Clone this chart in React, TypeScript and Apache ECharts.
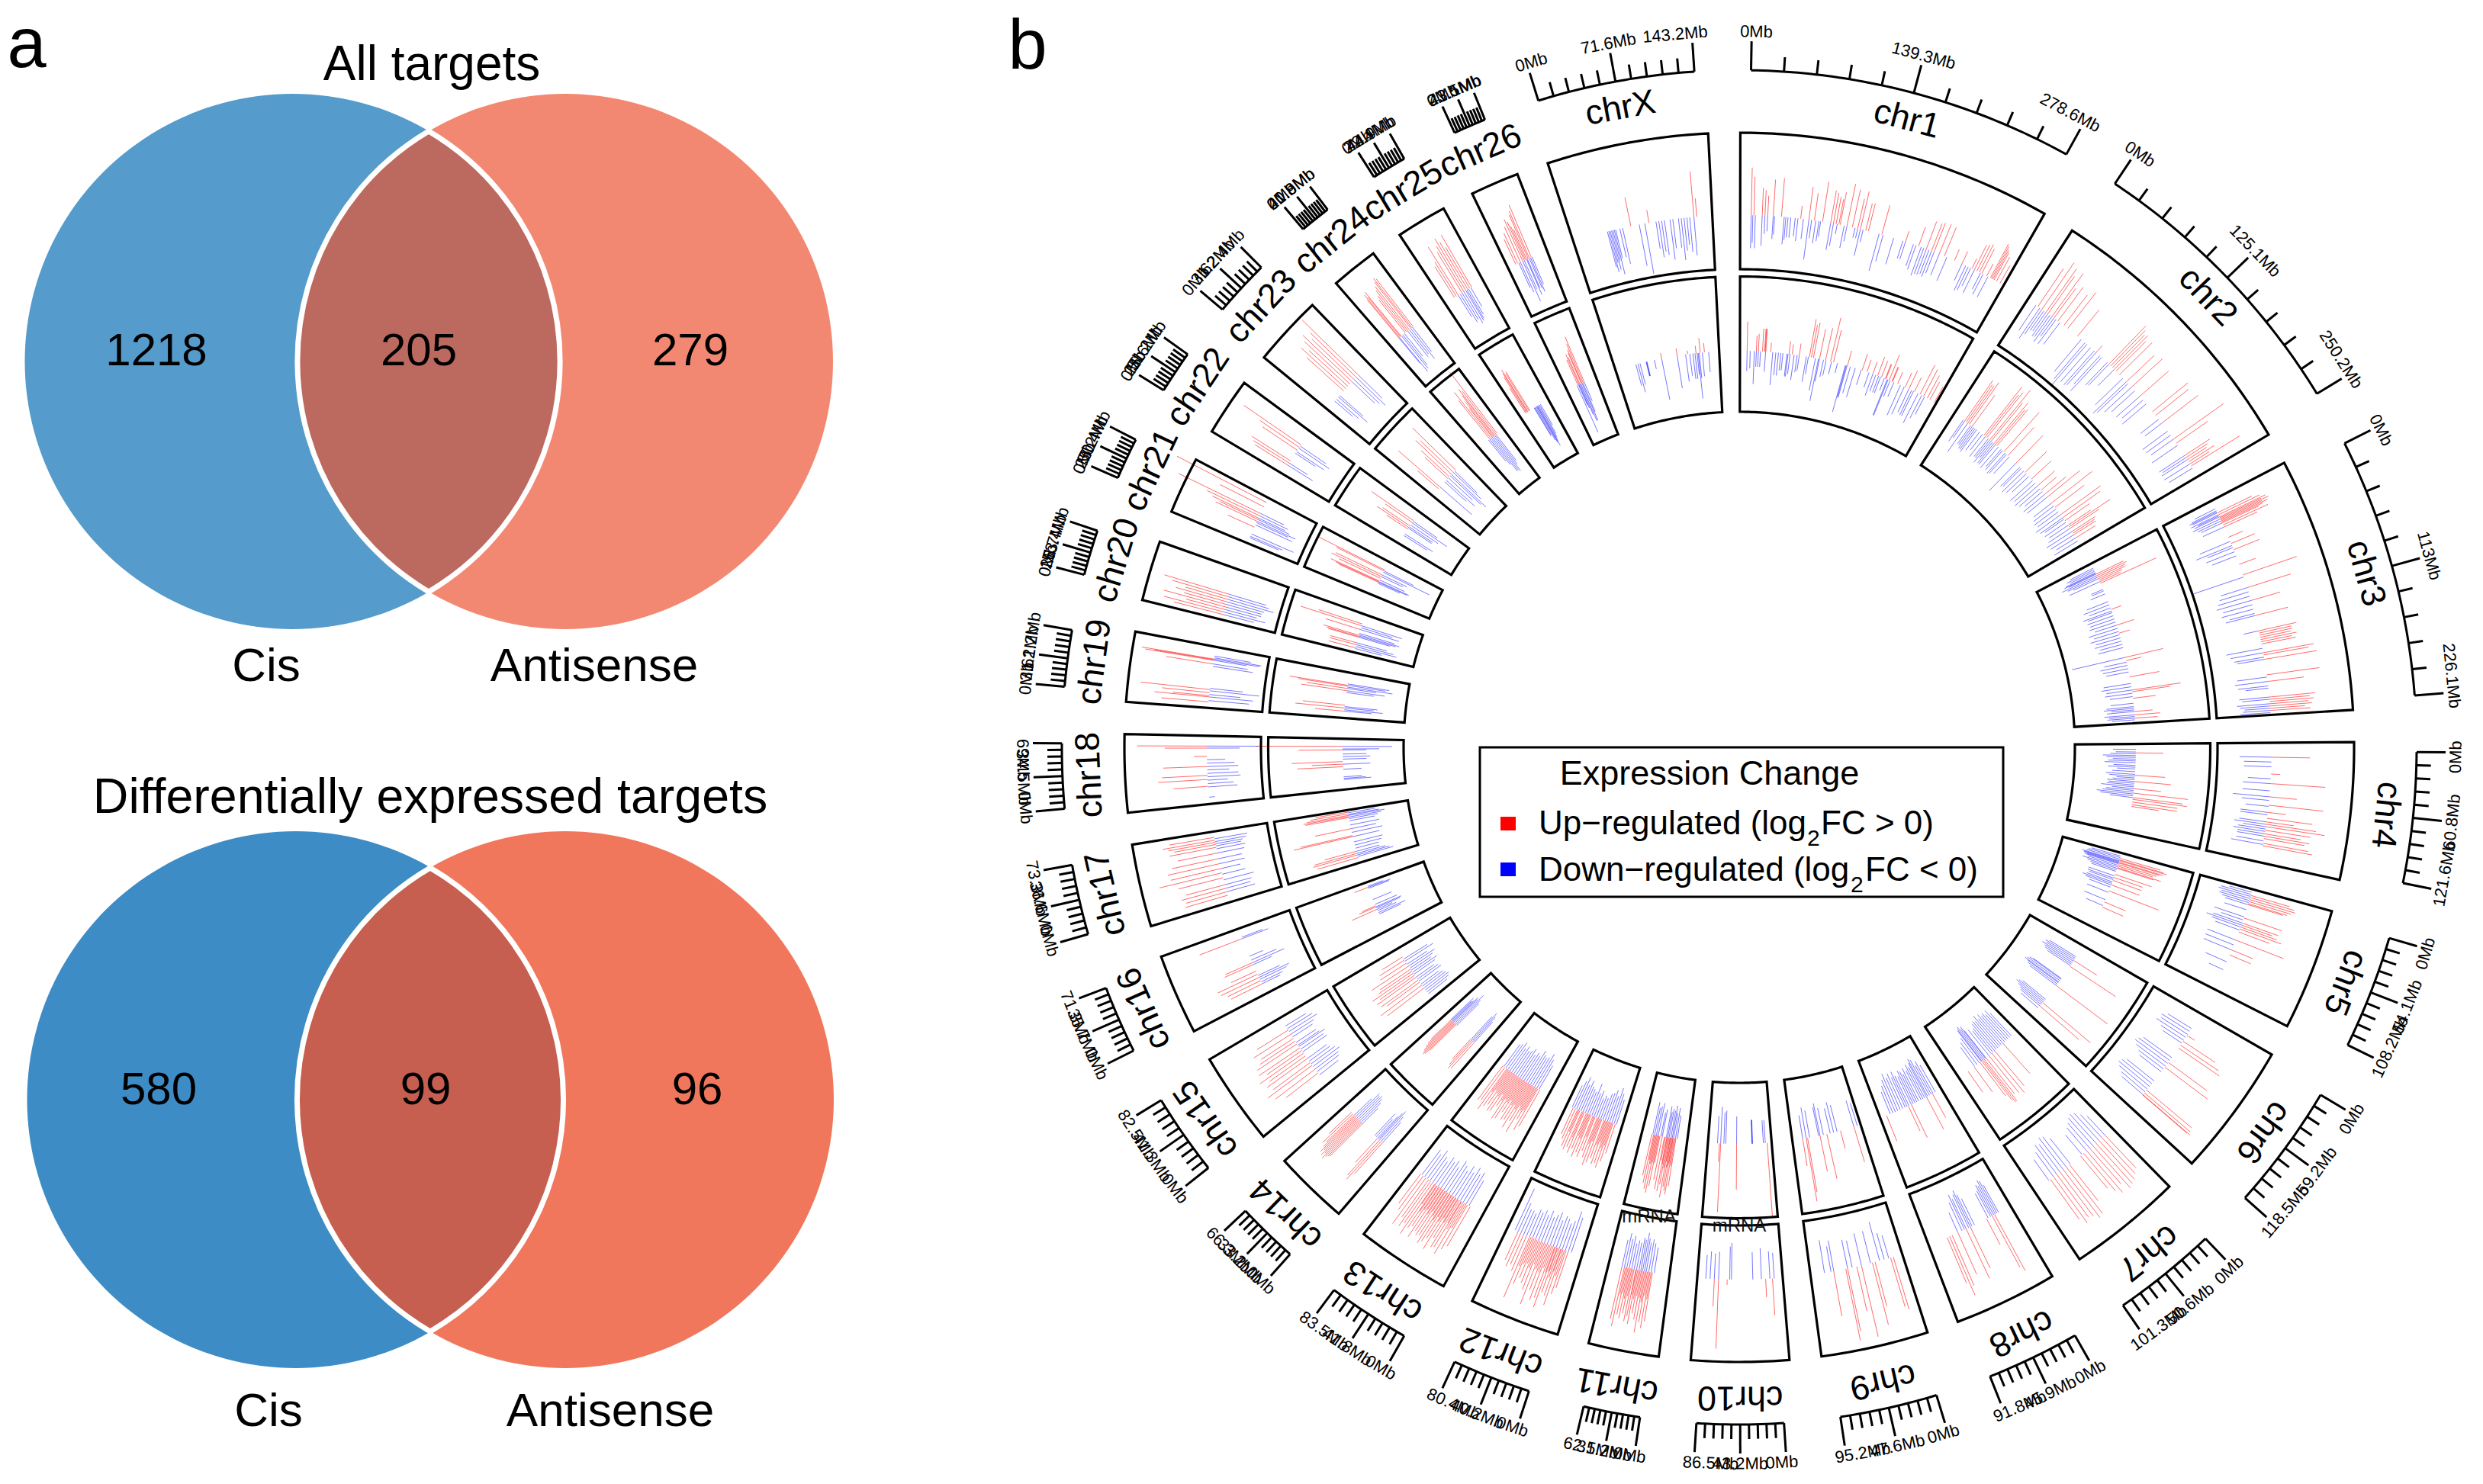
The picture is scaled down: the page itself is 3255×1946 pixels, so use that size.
import React, { useEffect, useRef } from "react";
import * as echarts from "echarts";

// ---------- Venn counts ----------
const vennAllCounts = ["1218", "205", "279"];
const vennDiffCounts = ["580", "99", "96"];
const vennAllTitle = "All targets";
const vennDiffTitle = "Differentially expressed targets";
const vennSets = ["Cis", "Antisense"];

// ---------- Genome ----------
const chrNames = ["chr1","chr2","chr3","chr4","chr5","chr6","chr7","chr8","chr9","chr10","chr11","chr12","chr13","chr14","chr15","chr16","chr17","chr18","chr19","chr20","chr21","chr22","chr23","chr24","chr25","chr26","chrX"];
const chrLengths = [278.6,250.2,226.1,121.6,108.2,118.5,101.3,91.8,95.2,86.5,62.5,80.4,83.5,66.3,82.5,71.3,73.3,69,62.2,53.4,50.4,51.2,62.4,41.8,44.9,43.1,143.2];
const chrMidLabels = ["139.3Mb","125.1Mb","113Mb","60.8Mb","54.1Mb","59.2Mb","50.6Mb","45.9Mb","47.6Mb","43.2Mb","31.2Mb","40.2Mb","41.8Mb","33.2Mb","41.3Mb","35.7Mb","36.6Mb","34.5Mb","31.1Mb","26.7Mb","25.2Mb","25.6Mb","31.2Mb","20.9Mb","22.4Mb","21.5Mb","71.6Mb"];
const chrEndLabels = ["278.6Mb","250.2Mb","226.1Mb","121.6Mb","108.2Mb","118.5Mb","101.3Mb","91.8Mb","95.2Mb","86.5Mb","62.5Mb","80.4Mb","83.5Mb","66.3Mb","82.5Mb","71.3Mb","73.3Mb","69Mb","62.2Mb","53.4Mb","50.4Mb","51.2Mb","62.4Mb","41.8Mb","44.9Mb","43.1Mb","143.2Mb"];

// Each list: position along the chromosome (% of length), |log2FC| ; a = outer track, b = inner track, U = up, D = down
const c1aU = [4,5.2,5,4.2,8,3,9,2.8,10,2.2,12,4,15,4.2,22,1.4,25,3.6,27,3,30,4.4,33,3.6,34,3.4,35,3,36,2.8,36.5,3.6,39,4.7,41,4.2,43,3.3,44,4.2,46,3,47,3.1,52,3.3,61,1.2,66,2.2,69,3.2,71,3.2,72,3.4,74,3.5,76,3.4,80,1.3,83,1.5,87,1.2,88,3,89,3.2,90,3.4,91,3,93,1.5,94.5,4.2,95,4,95.5,3.6,96,3.4,97,3,98.5,2.2];
const c1aD = [4,3.6,4.6,3,5.5,3.6,8,3.3,9,2,10,1.7,12,2.5,12.5,2,16,3,16.6,2.5,17.4,2.2,18.4,2.2,20,2,21,2.5,23,2.2,25,4.4,26,2,27.5,2.5,28.7,2.2,29.3,1.7,33,3,34,2.5,35.4,1.1,38,2.5,39,1.7,42,1.1,43,1.1,44,3,45,1.4,51,4.2,52.5,3,56.5,3,60,2,61,2,64,2.5,65,2.8,67,3.3,68,3,69,3,70,2.8,71,3,72,2.5,74,2.5,77,2.8,83,2,84.5,3,85.5,2.8,86.5,2.2,88,2.8,90.5,2,91.5,2.5,93.5,2.5];
const c1bU = [3.5,3.2,8,1.7,9,1.9,11,2.5,12,2.5,12.3,2.5,12.6,2.5,15,1,24,1.4,25.5,1.1,29,1.3,34,4.2,35,3.6,36,3.9,39,3.3,42,3.6,44.5,4.9,46,3.6,53,1.7,60.5,1.9,63,1.4,66,1.4,68.5,2.2,70.5,1.9,72.5,1.7,72.8,1.7,74.5,3,76,1.7,76.3,1.7,79,1.4,83,1.7,85,2.2,88,1.7,91,3.6,93,3.3,95,2.8,96.5,2.2,99,1.9];
const c1bD = [3.5,2.2,5,1.9,7,3.6,8,1.7,9,1.7,10,1.7,12.5,2.2,16,3.6,17.5,2.5,18.8,2.5,20,1.9,21,1.9,23,2.5,24.5,2.2,23.5,2.5,26.5,2.8,28,1.9,29,1.7,32.5,2.8,33.5,1.9,37,3.6,38.5,4.7,39,2.5,41,1.9,42.3,1.7,45,1.4,48,1.1,52,5.3,52.4,3.6,52.8,3.6,54.5,3,57,3.3,60,1.7,64,1.7,66,2.5,67.5,1.9,69,1.9,70,1.9,72,1.4,73.5,4.2,73.9,4.2,75,1.9,77,1.7,80.5,3.6,82.5,3.3,85,2.8,86.5,3,87.5,3,90,3.6,92,2.8,93.5,2.2];

const c2aU = [5,5,7,6.2,9,5.8,10,5,12,5.8,13,4,15,4.6,18,4.2,20,5,25,3.7,35,1,42,5.8,43,5.4,44,5,45,5.2,46,4.6,48,5,52,4.2,55,4.6,60,4.2,68,5,70,4.6,74,5,82,6.7,84,4.2,90,3.3,91,2.8,92,2.5,93,3.3,94,2.5,95,6.2];
const c2aD = [4,3.3,6,4,7,3.3,8,2.6,9,2.5,10,3,11,2.9,12,3.4,13,2.5,14,3.3,16,3,27,4.6,29,5.2,30,5.8,32,5,34,5,35,4.8,37,4.2,38,5,41,3.4,42,3.2,45,2.5,50,4.2,52,5,53,4.6,55,4,57,3.4,60,3.4,62,3,64,3.4,72,2.5,74,2.3,78,3.4,80,3.3,82,3,85,3.4,90,3.3,91,3,92,3.3,94,3.3,96,3];
const c2bU = [7,5.4,8,5,9,5,10,5.6,12,4.2,20,6.7,21,5.8,22,6.3,24,7,25,5.4,27,5.8,28,5,29,5.2,34,5.8,37,4.2,43,4.2,50,3.3,55,2.9,60,2.5,63,2.2,66,3,68,4.6,72,5.6,75,4,80,5.4,82,5,84,3.3,87,3,88,5.4,89,3.8,91,3,92,2.8,93,2.8,95,2.5];
const c2bD = [6,2.8,7,2.2,9,3.8,11,2.5,12,2.5,13,2.8,14,2.8,15,3,17,2.5,19,2.2,21,2.8,23,2.5,24,2.5,25,3,26,2.2,27,2.8,28,2.8,30,3,32,2.5,33,2.8,35,3,36,2.8,38,2.5,43,4.2,46,3,47,2.8,49,3.3,51,3,53,2.5,56,3.3,58,3,60,3.3,62,3,64,2.5,66,3,68,2.8,72,2.5,74,2.8,76,3,78,2.8,80,3.3,82,3,83,2.5,85,2.8,87,2.5,89,2.8,91,3.3,93,3,95,2.5,97,3];

const c3aU = [6,4.2,7,5,8,5.6,8.5,5,9,5.8,9.5,5,10,5.6,10.5,5,11,4.4,12,5.4,13,4,18,1.7,21,2.8,24,3,31,1.9,36,6.2,42,5,48,3.3,55,3.7,62,4.2,63,3.6,64,3.6,65,3.4,66,4,67,3.4,68,3.8,72,5.6,73,5,75,5.8,82,5.8,85,4,92,5,93,4.4,94,4.8,95,4.2,96,4.6,97,3.8,98,4.4];
const c3aD = [4,2.5,5,3,5.5,3.3,6,3,7,3.3,7.5,2.5,8,3,9,3.3,10,2.8,11,2.5,13,2.5,20,3.6,22,4.2,23,3,25,3.3,27,2.8,37,5.8,42,3,44,3.3,46,3.6,48,3.9,50,3.3,52,3.6,54,2.8,55,3.3,62,1.7,70,4,72,3.6,74,3.3,75,3,83,3.3,85,3.6,87,3.3,88,2.5,92,3.3,93,3,95,3.6,96,3.3,97,2.8,98,3,99,3.3];
const c3bU = [7,3.3,8,3.6,9,3.3,10,3.3,11,2.8,12,2.5,13,6.7,30,1.2,40,2,45,1.2,60,4.2,62,1.7,72,3.3,80,5.4,81,4.2,85,2.5,93,2,95,2.8,97,2.5];
const c3bD = [3,2.8,4,3.3,5,3,6,3.6,6.5,3.8,7,3.3,8,4.2,9,3.6,10,3,12,3.6,17,1.4,18,1.4,20,1.7,25,2.5,27,3,29,2.5,31,3.3,32,2.8,34,3,36,2.8,38,3,40,2.5,42,3.3,44,2.8,46,3.3,48,2.8,50,3,52,2.5,54,2.8,60,6,63,2.5,65,3,67,2.8,69,2.5,76,3,78,3.3,80,2.8,82,3,84,2.5,88,2.5,90,3,91,3.3,92,2.5,93,3,95,3.3,96,2.8,97,3,98,2.5];

const c4aU = [12,4.2,26,1,34,6,45,3,52,6,58,2,63,5,66,3,68,5.5,70,6.5,73,5,76,4,78,5,80,4.5,84,5,86,5.5];
const c4aD = [12,3.5,16,3,20,3,30,2.5,34,3,40,3,45,4,48,3,53,2.5,58,3,60,3,66,3,68,3.5,70,2.5,72,3,74,3.5,76,3,78,3,82,3,85,3.5];
const c4bU = [10,3,35,3.3,42,4,50,3,55,6,60,5.5,62,6,65,5,68,5,70,3];
const c4bD = [6,2.5,9,2.2,11,2.8,13,3.6,15,3.2,17,2.5,19,3,21,3.4,24,2.4,26,3,28,2,31,2.5,34,3.2,36,2.8,38,2,40,2.4,42,3,44,2.8,46,3,48,3.6,50,2.4,52,3,54,3.4,56,4,58,3.6,60,2.5];

const c5aU = [6,4.4,8,5,10,5.2,12,4.8,14,4.4,15,4,28,4.4,33,4.2,35,3.6,37,4.2,39,4.8,42,3.6,50,5.6,60,2.5,65,2.5];
const c5aD = [3,2.5,5,3.4,7,3.6,9,3.2,11,3.4,13,3,15,2.6,20,2.5,27,3.4,30,2.5,33,3.3,35,4,37,3.3,40,2.8,50,3.3,55,3.3,60,3.3,72,2.5,80,1.7];
const c5bU = [7,4.6,9,5,10,5.4,12,5,13,4.6,15,4.4,17,4,19,5,20,4.2,28,4.2,32,3.3,36,3.3,42,3.3,50,5.8,65,2.5,72,2.5];
const c5bD = [4,3.3,6,3.6,8,3.8,10,4.2,11,4,12,4,13,3.6,14,3.8,16,3.4,18,4,20,3.4,22,3,24,2.8,30,3,33,3,35,2.8,38,3,40,3.4,42,3,45,2.5,52,2.5,62,2.5,70,2];

const c6aU = [22,1,28,4.2,32,5,35,5.4,50,5.2,55,5.8,80,6.4,83,6.6,85,6.8,85.4,6.4];
const c6aD = [15,3,18,3.6,21,3.4,24,3.8,27,3,30,2.5,45,3.8,48,4.2,51,4.4,54,4,57,3.4,60,3,70,3.8,73,4.2,76,4.4,79,4,82,3.4,85,3];
const c6bU = [20,3,28,6,55,7,80,6.8,85,5.6];
const c6bD = [15,3.4,17,3.8,19,3.6,21,4,23,3.6,25,3.4,27,3,45,3.8,46,4.2,48,4.4,50,4.6,51,4.2,53,4,55,3.6,75,3.2,77,3.6,79,3.8,81,3.4,83,3,85,2.8,88,2.5];

const c7aU = [10,5,14,5.4,18,5.8,22,6,26,6.2,30,5.2,34,6,38,5.4,42,4.6,56,5,60,6.4,64,6.6,68,6,72,5.8,76,6.2,80,5.4];
const c7aD = [10,2.8,14,3.4,18,4,22,4.2,26,4,30,3.6,34,3.3,40,2.8,55,3.6,60,4.2,64,4.4,68,3.8,72,4,76,3.3,82,2.8];
const c7bU = [25,4.4,40,5,45,5.6,50,5.2,55,5,58,5.8,60,5.8,62,5.4,65,4.6,75,3.4,85,2.8];
const c7bD = [10,3.4,13,4,16,3.6,19,4,22,3.8,25,4.2,28,3.8,31,4.4,34,3.8,37,4,40,3.8,43,3.4,46,3.2,50,3.6,55,3.8,56,4.4,58,4.2,60,4.6,62,4.4,63,4.2,66,3.4,70,3,74,2.6];

const c8aU = [20,7,23,6.4,30,3.2,50,5,55,6,65,5,72,6,75,7,78,5.4];
const c8aD = [15,3.4,17,4,19,4.2,21,3.6,23,3.8,25,3.2,28,3,45,3.2,48,3.8,50,4.4,52,4,55,3.6,57,4.2,60,3.4,65,2.4];
const c8bU = [15,3,25,4,50,4,55,3,90,3];
const c8bD = [10,3.4,14,4,17,3.6,20,4.4,23,4.6,25,4.2,28,3.8,31,4.2,34,3.6,38,4,41,3.4,44,3.8,47,4,50,3.4,54,3.6,57,4.2,60,3.6,64,4.2,68,3.8,72,4.4,76,3.8,80,3.2,84,2.6];

const c9aU = [10,6,13,5.6,30,5,33,7,45,8,50,5,60,7,62,8,75,5];
const c9aD = [15,2.6,20,3,25,4.4,35,3.6,45,3.6,55,3,60,3.2,75,3.4,78,2.8,85,3.6];
const c9bU = [10,4,30,2,50,5,60,4,78,6,80,7,85,3];
const c9bD = [5,2.6,10,3,35,3,40,3.4,45,2.8,55,3,60,3.6,62,3.2,75,3,80,3.4,85,2.6];

const c10aU = [12,4,20,2,65,0.6,75,7.6,80,3];
const c10aD = [10,2.8,15,3,25,3.4,35,3,60,4,62,3.6,75,3,80,2.8,85,3,90,2.6];
const c10bU = [7,8,55,5,80,7.5,82,2];
const c10bD = [10,2.5,13,2.5,30,2.6,30.5,2.6,31,2.6,55,3,72,3.6,75,3.4,80,4,85,3];

const c11aU = [28,5.4,32,6.2,36,5.6,40,6.8,44,5.4,48,4.8,52,6,55,5.2,58,5.8,62,5,66,5.6,70,5.2,74,6.6,78,5.8,30,3,34,2.6,38,3.4,42,3,46,2.8,50,3.2,54,2.8,60,3,64,3.4,68,2.8,72,3];
const c11aD = [25,2.8,30,3.2,34,3.6,38,3.2,41,3.6,44,4.2,47,3.4,50,3.6,54,3,58,3.2,62,2.8,66,3.6,70,3.2,74,3.8,78,3];
const c11bU = [25,5.2,29,6.2,32,5.8,35,5.4,38,6.6,42,5.2,45,6,50,5.8,55,4.8,62,5.6,66,6.4,70,6,74,5.4,78,4.6,27,3,31,2.8,34,3.2,37,2.6,40,3.4,44,3,48,2.6,60,3,64,3,68,3.2,72,2.8];
const c11bD = [22,2.6,26,3.4,30,2.8,33,3.6,36,3,40,3.2,43,2.8,46,3.4,55,3,58,2.6,64,3.6,68,3.2,72,3,76,3.6];

const c12aU = [18,4.2,21,5,25,6.4,28,5.4,32,5.2,35,7,38,6,42,6.4,46,5.4,50,7.2,54,5.6,58,5,62,4.6,66,5.4,70,7.2,74,4.2,78,3.6,82,4,86,3.4,23,3,27,2.6,30,3.4,33,2.8,36,3,40,2.6,44,3.2,48,3,52,2.6,56,3.2,60,2.8,64,3,68,3.4];
const c12aD = [14,4,18,4.6,22,3.4,26,3,30,3.4,34,3.6,38,3,42,3.8,46,3.4,50,3,54,3.6,58,3,62,3.4,66,3,70,3.2,74,2.6,78,2.8,82,2.8,86,3.4,90,5];
const c12bU = [12,3.4,16,4.4,20,5.2,24,4.8,28,5,32,4.4,36,5,40,5.4,44,4.6,48,4,52,4.8,56,4.4,60,5,64,4.2,68,4.8,72,4.2,76,4.6,80,4.4,84,3.6,88,3.2,18,2.6,22,3,26,2.4,30,2.8,38,2.6,42,3,50,2.4,58,2.8,62,2.6,70,3,78,2.6];
const c12bD = [10,2.8,14,3.4,18,4,22,3,26,3.6,30,3.2,34,3,38,2.4,42,2.6,46,2.2,50,3,54,2.6,58,3.6,62,2.6,66,2.8,70,3,74,3.6,78,3,82,3.8,86,3.2,90,2.6];

const c13aU = [18,5,22,5.6,26,6.4,30,5.8,33,6,36,5,39,6.6,42,5.4,45,6,48,6.4,51,5.6,54,5.8,57,5.4,60,6.4,63,5.2,66,5.6,69,6.6,72,5.4,75,6,78,5,82,6.2,86,4.6,90,4,24,3,28,3.4,31,2.8,35,3,38,2.6,41,3.2,44,2.8,47,3.4,50,3,53,2.6,56,3.2,59,2.8,62,3,65,3.4,68,2.6];
const c13aD = [20,3.2,24,4,28,3.6,32,4.2,36,3.4,40,4,44,3.2,48,3.6,52,4,56,3,60,3.6,64,3.2,68,3.6,72,2.8,76,3.2,80,3.8,84,3,88,3.4];
const c13bU = [16,4.6,20,5.2,24,4,28,5.8,32,4.6,36,5.6,40,4.8,44,5,48,4.2,52,5.2,56,5.4,60,4,64,4.8,68,5,72,4.4,76,4.8,80,5.4,84,4.4,88,4.6,22,2.8,26,3,30,2.6,34,3.2,38,2.8,42,3,46,2.6,50,3,54,2.8,58,3.2,62,2.6,66,3,70,2.8,74,2.6,78,3];
const c13bD = [18,3,22,3.6,26,4.2,30,3.6,34,3.4,38,3.6,42,4,46,3.2,50,3.4,54,3,58,3.6,62,3.2,66,3,70,3.4,74,3,78,3.6,82,3.2,86,3];

const c14aU = [20,4.6,23,5.6,26,5.2,30,3.6,62,5,64,5.2,66,5.4,68,5.8,70,5.2,72,5.6,74,5,76,5.4,78,4.8,80,4.2,83,4.6,86,3.4];
const c14aD = [20,3,23,3.6,26,4.2,28,3.8,30,3.2,33,2.6,36,3.2,62,2.4,65,3,68,3.4,71,3.6,74,3.4,77,3.6,80,2.6];
const c14bU = [18,3.8,22,4,25,3.6,28,3,70,4,72,4.6,74,4.8,76,4.6,78,4.4,80,4,82,3.6,84,3];
const c14bD = [18,3,21,3.6,24,4,27,3.4,68,3.4,71,3.8,74,4.4,77,3.6,79,3.8,81,3.2,83,3,85,3.4];

const c15aU = [18,4.4,24,5.4,30,6,34,5,40,5.4,44,4.8,48,5.8,52,4.6,56,5.4,62,5.2,66,4.6,70,4.2,76,4.8,82,4];
const c15aD = [15,2.6,20,3,24,3.2,28,3.6,32,3.2,36,2.8,40,2.6,50,3.2,54,3,58,3.4,60,2.8,64,2.6,72,2.6,76,3,80,3.6,84,3.2,88,2.6];
const c15bU = [22,5,28,5.6,34,4.4,38,5,44,5.2,48,4.6,52,5.4,56,4.4,60,4,66,4.8,72,3.4,78,3.2,84,2.6];
const c15bD = [10,2.6,14,3,18,3.2,22,3,26,2.8,30,2.4,36,3,40,2.8,44,2.4,50,2.8,54,3.2,58,2.6,62,3,66,3.4,70,2.6,76,3.6,80,3];

const c16aU = [15,3.8,20,4,25,4.6,30,4.8,35,3,45,3.4,48,3.2,85,5];
const c16aD = [15,2.2,18,2.6,22,3.2,25,3.6,28,2.6,45,2.2,48,3.8,52,3,58,1.6,85,3,87,2.4];
const c16bU = [45,3,50,2,52,1.6,90,1.6];
const c16bD = [35,2.6,38,3.2,42,2.2,45,1.8,48,2.8,50,3,55,2.6,65,2.2,88,2.4,90,2.6,92,1.8];

const c17aU = [10,4.8,15,4.6,20,5,25,4.4,35,5,42,7,48,5.6,55,5.8,62,5.2,70,4.4,78,5.2,82,4.6,85,5.2,88,5.8,92,5];
const c17aD = [15,3.2,20,2.8,25,3,32,3.4,40,2.6,48,2.2,55,2.8,62,2.6,70,3,76,3.2,80,2.8,83,3,86,3.4,90,3.6];
const c17bU = [10,4.6,15,5,18,4.8,22,3.6,50,6.6,52,5.8,65,4,86,4.8,88,5,90,4.6,93,4.2,96,3.6];
const c17bD = [12,4,15,3.6,18,3.2,22,2.6,28,2.6,34,3,40,3.2,50,3,58,3.4,65,2.8,72,3.2,80,2.8,84,3.2,87,3.6,90,4,92,3.4,95,3];

const c18aU = [85,7.6,82,4.6,55,4.8,42,5,36,5.4,26,3.8,70,1.4];
const c18aD = [85,5.6,82,3.6,65,2,60,3,55,3.4,50,2.4,45,3.4,40,3.6,35,2.2,30,2.8,25,3.2,10,0.6];
const c18bU = [85,9.4,78,4.8,55,5.6,50,3.4,45,5];
const c18bD = [85,5.4,80,4,78,2.6,70,2.6,65,3,60,2.6,50,3,40,2,20,3,22,2.4,25,2];

const c19aU = [80,8,79,6.6,78,7.6,72,5.2,30,7.6,25,5.2,20,4,18,6,10,5.2];
const c19aD = [85,4,82,5.2,80,5,78,3.6,72,3.8,68,4.4,32,3.6,28,5.4,22,3.4,18,4.8,12,4.4];
const c19bU = [72,6.4,70,5.4,65,4.4,60,5,28,4.6,22,5.4,15,3.2];
const c19bD = [75,4.6,72,4.2,68,5,65,3.2,60,4.2,56,3,25,3.6,22,3.2,18,4.2,15,3];

const c20aU = [50,7.4,45,6.4,40,4.8,35,5.8,30,4.8,25,7,20,4.4,15,6.8,10,5.6];
const c20aD = [50,4.2,45,4.6,40,5.2,35,4.2,30,4,25,4,20,3.6,15,4.6,10,3.4];
const c20bU = [75,5,70,7,60,4,45,4,42,3.6,40,3.4,25,3,20,3,12,3];
const c20bD = [70,4.6,65,3.6,60,4.4,50,4,46,4.6,43,4.2,40,3.6,25,3.4,20,4.2,15,4.6,10,3];

const c21aU = [90,11,80,5.4,65,10,60,6.4,55,5.6,52,4.6,48,5,35,3.2];
const c21aD = [65,2.8,60,3.4,55,3.2,52,3.8,48,4.6,45,3.8,40,4.4,20,5,15,3.8,12,3.4];
const c21bU = [75,8,72,5.8,60,5.6,55,6,50,5,42,5.8,40,5.2,38,4.8];
const c21bD = [72,3.6,68,5.6,60,3,55,2.6,45,3,40,3.6,38,3.4,35,2.6];

const c22aU = [68,7.6,62,5.2,55,4.6,30,5,25,4.6,20,4.2];
const c22aD = [65,3.4,60,4,52,3.6,48,2.6,25,2.4,20,3.2];
const c22bU = [72,5.6,66,3.6,55,3.6,50,4.2,45,2.8];
const c22bD = [70,3.2,65,4.6,58,3.6,52,3,48,3,30,3.6,25,3];

const c23aU = [75,8.6,70,7,65,6.4,60,7.4,55,6.8,50,5.8,45,6.6,40,5.4];
const c23aD = [75,3.6,70,4.4,65,3.8,60,3.4,30,3.4,27,4.2,22,3.2,18,2.6];
const c23bU = [75,6.6,68,5,62,5.4,55,4.2,50,3.4,25,6,20,3];
const c23bD = [72,3.4,68,4.2,62,5.2,58,4.6,52,3.6,45,4.2,40,3.2,25,4.6];

const c24aU = [72,6.6,68,6.8,65,6.4,60,6,56,5.6,52,5,48,4.6,35,6.2,33,5.6,30,6,28,5.4];
const c24aD = [70,3.4,65,4.2,60,3.4,55,3.6,45,3.2,40,4.2,36,4.6,30,4.8,28,3.6];
const c24bU = [75,8.4,70,6,65,6.4,62,5.6,58,4.8,55,4,50,6.4,45,5.4];
const c24bD = [70,3.6,65,4,60,4.8,55,4.6,50,4.6,45,3.6,40,3];

const c25aU = [70,6.6,65,5.2,60,6,55,6.6,50,5.8,45,5.2,35,6.2,30,4.4,25,4];
const c25aD = [68,2.4,62,3.2,58,3.6,55,3.8,50,4,45,3.4,40,3.6,35,2.8];
const c25bU = [35,5,32,4.8,28,5.4,26,5,23,4.6,20,3.2];
const c25bD = [72,2.6,68,3.6,65,4,62,4.4,60,5,58,4.6,55,4.2,52,3.4,50,3.6];

const c26aU = [60,6.2,55,5.6,52,5.2,48,3.6,45,4,42,4.6,38,5,32,4.2,25,3.6,20,3];
const c26aD = [62,3.2,58,4,55,3.6,50,3.4,48,4.2,42,3.4,38,4.8,32,3.6,28,3];
const c26bU = [60,5.4,56,4.6,52,4,50,3.6,45,3.2,42,3.6,38,3];
const c26bD = [60,2.2,55,3.4,52,4.4,48,4.4,45,3.6,42,2.8,40,2.4,35,5.6];

const cXaU = [42,3.2,55,1.4,87,5,89,2];
const cXaD = [25,4,26,4.6,27,3.6,28,4.4,29,3.4,30,5,31,3.2,34,3.2,36,4,48,4.6,52,5.6,60,3,62,4,64,3.4,66,3.8,70,4.4,72,3.2,76,3.2,78,4.6,80,3.6,82,3,84,3.8,87,4.2];
const cXbU = [45,0.6,60,0.8,70,0.4,78,0.8,82,1.6,86,1];
const cXbD = [20,2.4,22,3.2,24,2.4,30,1.6,30.4,1.6,30.8,1.6,38,1,45,4.6,60,3.6,68,3,72,2.4,75,2.8,77,2.8,79,2.4,80,5,81,2.8,84,2.6,90,2.2];

const trackTable = [
  [c1aU,c1aD,c1bU,c1bD],[c2aU,c2aD,c2bU,c2bD],[c3aU,c3aD,c3bU,c3bD],[c4aU,c4aD,c4bU,c4bD],[c5aU,c5aD,c5bU,c5bD],[c6aU,c6aD,c6bU,c6bD],[c7aU,c7aD,c7bU,c7bD],[c8aU,c8aD,c8bU,c8bD],[c9aU,c9aD,c9bU,c9bD],
  [c10aU,c10aD,c10bU,c10bD],[c11aU,c11aD,c11bU,c11bD],[c12aU,c12aD,c12bU,c12bD],[c13aU,c13aD,c13bU,c13bD],[c14aU,c14aD,c14bU,c14bD],[c15aU,c15aD,c15bU,c15bD],[c16aU,c16aD,c16bU,c16bD],[c17aU,c17aD,c17bU,c17bD],[c18aU,c18aD,c18bU,c18bD],
  [c19aU,c19aD,c19bU,c19bD],[c20aU,c20aD,c20bU,c20bD],[c21aU,c21aD,c21bU,c21bD],[c22aU,c22aD,c22bU,c22bD],[c23aU,c23aD,c23bU,c23bD],[c24aU,c24aD,c24bU,c24bD],[c25aU,c25aD,c25bU,c25bD],[c26aU,c26aD,c26bU,c26bD],[cXaU,cXaD,cXbU,cXbD],
];

// ---------- Layout ----------
const FONT = "Liberation Sans";
const CX = 2280, CY = 980;
const GAP_DEG = 3, START_DEG = 0.1, AXIS_PAD_DEG = 0.9;
const OUTER = { r0: 627, r1: 806, base: 698 };
const INNER = { r0: 440, r1: 617.5, base: 520 };
const UNIT = 12;
const AXIS_R = 888, MAJOR = 38, MINOR = 19, AXIS_LABEL_R = 939, NAME_R = 854;
const LABEL_SHIFT_DEG = [0.37, 0, -1.34];

const totalLen = chrLengths.reduce((a, b) => a + b, 0);
const DEG_PER_MB = (360 - chrLengths.length * GAP_DEG) / totalLen;
const chrStart: number[] = [];
chrLengths.reduce((acc, l, i) => { chrStart[i] = acc; return acc + l * DEG_PER_MB + GAP_DEG; }, START_DEG);
const angleOf = (i: number, mb: number) => chrStart[i] + mb * DEG_PER_MB;
const norm = (a: number) => ((a % 360) + 360) % 360;

function buildBars(colourIdx: number) {
  const rows: number[][] = [];
  trackTable.forEach((t, i) => {
    [OUTER, INNER].forEach((trk, k) => {
      const list = t[k * 2 + colourIdx];
      for (let j = 0; j + 1 < list.length; j += 2) {
        const mb = (list[j] / 100) * chrLengths[i];
        const sign = colourIdx === 0 ? 1 : -1;
        rows.push([trk.base, trk.base + sign * list[j + 1] * UNIT, norm(angleOf(i, mb))]);
      }
    });
  });
  return rows;
}

const barSeries = (colour: string, opacity: number, idx: number) => ({
  type: "custom", coordinateSystem: "polar", silent: true, clip: false,
  encode: { radius: 0, angle: 2 },
  data: buildBars(idx),
  renderItem: (_: any, api: any) => {
    const p = api.coord([api.value(0), api.value(2)]);
    const q = api.coord([api.value(1), api.value(2)]);
    return { type: "line", shape: { x1: p[0], y1: p[1], x2: q[0], y2: q[1] }, style: { stroke: colour, lineWidth: 0.9, opacity } };
  },
});

const boxSeries = {
  type: "custom", coordinateSystem: "polar", silent: true, clip: false,
  encode: { radius: 0, angle: 2 },
  data: chrNames.flatMap((_, i) => [OUTER, INNER].map((t) => [t.r0, t.r1, chrStart[i], angleOf(i, chrLengths[i])])),
  renderItem: (_: any, api: any) => {
    const r0 = api.value(0), r1 = api.value(1), a0 = api.value(2), a1 = api.value(3);
    const pts: number[][] = [];
    const n = Math.max(6, Math.round((a1 - a0) * 2));
    for (let s = 0; s <= n; s++) pts.push(api.coord([r1, norm(a0 + ((a1 - a0) * s) / n)]));
    for (let s = n; s >= 0; s--) pts.push(api.coord([r0, norm(a0 + ((a1 - a0) * s) / n)]));
    return { type: "polygon", shape: { points: pts }, style: { fill: "none", stroke: "#000", lineWidth: 3.2, lineJoin: "miter" } };
  },
};

const axisSeries = {
  type: "custom", coordinateSystem: "polar", silent: true, clip: false,
  encode: { radius: 0, angle: 1 },
  data: chrNames.map((_, i) => [AXIS_R, chrStart[i], angleOf(i, chrLengths[i]), i]),
  renderItem: (_: any, api: any) => {
    const sa = api.value(1), ea = api.value(2), i = api.value(3);
    const a0 = sa + AXIS_PAD_DEG, a1 = ea - AXIS_PAD_DEG;
    const pts: number[][] = [];
    const n = Math.max(6, Math.round((a1 - a0) * 2));
    for (let s = 0; s <= n; s++) pts.push(api.coord([AXIS_R, norm(a0 + ((a1 - a0) * s) / n)]));
    const children: any[] = [{ type: "polyline", shape: { points: pts }, style: { fill: "none", stroke: "#000", lineWidth: 3 } }];
    for (let t = 0; t <= 10; t++) {
      const a = norm(a0 + ((a1 - a0) * t) / 10);
      const len = t % 5 === 0 ? MAJOR : MINOR;
      const p = api.coord([AXIS_R, a]), q = api.coord([AXIS_R + len, a]);
      children.push({ type: "line", shape: { x1: p[0], y1: p[1], x2: q[0], y2: q[1] }, style: { stroke: "#000", lineWidth: 3 } });
    }
    const labels = ["0Mb", chrMidLabels[i], chrEndLabels[i]];
    labels.forEach((text, k) => {
      const a = a0 + ((a1 - a0) * k) / 2 + LABEL_SHIFT_DEG[k];
      const p = api.coord([AXIS_LABEL_R, norm(a)]);
      const facing = a > 90 && a < 270 ? a - 180 : a;
      children.push({ type: "text", x: p[0], y: p[1], rotation: (-facing * Math.PI) / 180, style: { text, fontFamily: FONT, fontSize: 22, fill: "#000", align: "center", verticalAlign: "middle" } });
    });
    const mid = (sa + ea) / 2;
    const c = api.coord([NAME_R, norm(mid)]);
    children.push({ type: "text", x: c[0], y: c[1], rotation: (-mid * Math.PI) / 180, style: { text: chrNames[i], fontFamily: FONT, fontSize: 45, fill: "#000", align: "center", verticalAlign: "middle" } });
    return { type: "group", children };
  },
};

const trackLabelRows = [[626, 190.9], [626, 180]];
const trackLabelSeries = {
  type: "custom", coordinateSystem: "polar", silent: true, clip: false,
  encode: { radius: 0, angle: 1 },
  data: trackLabelRows,
  renderItem: (_: any, api: any) => {
    const p = api.coord([api.value(0), api.value(1)]);
    return { type: "text", x: p[0], y: p[1], style: { text: "mRNA", fontFamily: FONT, fontSize: 24, fill: "#111", align: "center", verticalAlign: "middle" } };
  },
};

// ---------- Venn shapes ----------
echarts.graphic.registerShape("lensTop", echarts.graphic.extendPath("M562 172 A351 351 0 0 1 562 776 A351 351 0 0 1 562 172 Z", {}) as any);
echarts.graphic.registerShape("lensBottom", echarts.graphic.extendPath("M564 1138 A352 352 0 0 1 564 1746 A352 352 0 0 1 564 1138 Z", {}) as any);

const txt = (text: string, x: number, y: number, fontSize: number, extra: any = {}) => ({
  type: "text", x, y, z: 10,
  style: { text, fontFamily: FONT, fontSize, fill: "#000", align: "center", verticalAlign: "middle", ...extra },
});
const left = { align: "left" };

const graphics: any[] = [
  { type: "circle", shape: { cx: 383.5, cy: 474, r: 351 }, style: { fill: "#559BCB" } },
  { type: "circle", shape: { cx: 741, cy: 474, r: 351 }, style: { fill: "#F38872" } },
  { type: "lensTop", x: 0, y: 0, style: { fill: "#BC6A5F", stroke: "#fff", lineWidth: 7 } },
  { type: "circle", shape: { cx: 387.5, cy: 1442, r: 352 }, style: { fill: "#3E8CC5" } },
  { type: "circle", shape: { cx: 741, cy: 1442, r: 352 }, style: { fill: "#F0775C" } },
  { type: "lensBottom", x: 0, y: 0, style: { fill: "#C65F50", stroke: "#fff", lineWidth: 7 } },
  txt("a", 35, 56, 92),
  txt("b", 1347, 58, 92),
  txt(vennAllTitle, 566, 83, 64),
  txt(vennAllCounts[0], 205, 458, 60),
  txt(vennAllCounts[1], 549, 458, 60),
  txt(vennAllCounts[2], 905, 458, 60),
  txt(vennSets[0], 349, 871, 62),
  txt(vennSets[1], 779, 871, 62),
  txt(vennDiffTitle, 564, 1044, 64.5),
  txt(vennDiffCounts[0], 208, 1427, 60),
  txt(vennDiffCounts[1], 558, 1427, 60),
  txt(vennDiffCounts[2], 914, 1427, 60),
  txt(vennSets[0], 352, 1848, 62),
  txt(vennSets[1], 800, 1848, 62),
  { type: "rect", z: 9, shape: { x: 1940, y: 980, width: 686, height: 196 }, style: { fill: "#fff", stroke: "#000", lineWidth: 3 } },
  txt("Expression Change", 2241, 1013, 45),
  { type: "rect", z: 10, shape: { x: 1967, y: 1071, width: 20, height: 18 }, style: { fill: "#ff0000" } },
  { type: "rect", z: 10, shape: { x: 1967, y: 1131, width: 20, height: 18 }, style: { fill: "#0000ff" } },
  txt("Up\u2212regulated (log", 2017, 1078, 44, left),
  txt("2", 2369, 1098, 30, left),
  txt("FC > 0)", 2387, 1078, 44, left),
  txt("Down\u2212regulated (log", 2017, 1139, 44, left),
  txt("2", 2426, 1159, 30, left),
  txt("FC < 0)", 2445, 1139, 44, left),
];

export default function App() {
  const ref = useRef<HTMLDivElement>(null);
  useEffect(() => {
    const chart = echarts.init(ref.current!, undefined, { renderer: "svg" });
    chart.setOption({
      animation: false,
      backgroundColor: "#fff",
      polar: { center: [CX, CY], radius: 1000 },
      angleAxis: { type: "value", min: 0, max: 360, startAngle: 90, clockwise: true, show: false },
      radiusAxis: { type: "value", min: 0, max: 1000, show: false },
      graphic: graphics,
      series: [barSeries("#ff0000", 0.65, 0), barSeries("#0000ff", 0.6, 1), boxSeries, axisSeries, trackLabelSeries],
    });
    return () => chart.dispose();
  }, []);
  return <div ref={ref} style={{ position: "fixed", left: 0, top: 0, width: 3255, height: 1946 }} />;
}
